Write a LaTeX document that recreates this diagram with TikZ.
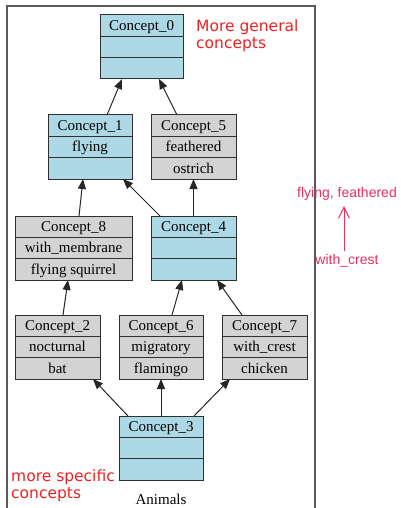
\documentclass[tikz,border=0pt]{standalone}
\usepackage{fontspec}
\setmainfont{Liberation Serif}
\newfontfamily\annofont{DejaVu Sans}
\newfontfamily\notefont{Liberation Sans}
\usetikzlibrary{arrows.meta,calc}
\definecolor{cblue}{HTML}{ADD8E6}
\definecolor{cgray}{HTML}{D3D3D3}
\definecolor{cline}{HTML}{303030}
\definecolor{annored}{HTML}{F02020}
\definecolor{notepink}{HTML}{E8305E}
\tikzset{
  box/.style={draw=cline, line width=1pt, rectangle, inner sep=0pt, outer sep=0pt},
  boxline/.style={draw=cline, line width=1pt},
  txt/.style={font=\fontsize{15}{15}\selectfont, inner sep=0pt, anchor=base},
  edge/.style={draw=black!85, line width=1pt, -{Triangle[length=10pt,width=8pt]}},
  frame/.style={draw=black!65, line width=1.3pt},
  anno/.style={text=annored, font=\annofont\fontsize{15.5}{18}\selectfont, inner sep=0pt, anchor=base west},
  note/.style={text=notepink, font=\notefont\fontsize{14}{14}\selectfont, inner sep=0pt},
  notearrow/.style={draw=notepink, line width=1pt, -{Straight Barb[length=11pt,width=11pt,line width=1pt]}}
}
\newcommand\conc[8]{%
  \node[box, fill=#5, minimum width={#4-#2}, minimum height=64, anchor=north west] (#1) at (#2,#3) {};
  \draw[boxline] ($(#1.north west)+(0,21.33)$) -- ($(#1.north east)+(0,21.33)$);
  \draw[boxline] ($(#1.north west)+(0,42.67)$) -- ($(#1.north east)+(0,42.67)$);
  \node[txt] at ($(#1.north)+(0,15.5)$) {#6};
  \node[txt] at ($(#1.north)+(0,36.8)$) {#7};
  \node[txt] at ($(#1.north)+(0,58.1)$) {#8};
}
\begin{document}
\begin{tikzpicture}[x={(1pt,0)}, y={(0,-1pt)}]
\useasboundingbox (0,0) rectangle (400,508);
\begin{scope}
\clip (0,0) rectangle (400,508);
\draw[frame] (7,6) rectangle (315,530);
\end{scope}
% annotations
\node[anno] (gen1) at (196,32) {More general};
\node[anno] (gen2) at (196,49) {concepts};
\node[anno] (spec1) at (11,481) {more specific};
\node[anno] (spec2) at (11,498) {concepts};
% concepts
\conc{c0}{100}{15}{183}{cblue}{Concept\_0}{}{}
\conc{c1}{48}{115}{132}{cblue}{Concept\_1}{flying}{}
\conc{c5}{151}{115}{236}{cgray}{Concept\_5}{feathered}{ostrich}
\conc{c8}{15}{216}{132}{cgray}{Concept\_8}{with\_membrane}{flying squirrel}
\conc{c4}{151}{216}{236}{cblue}{Concept\_4}{}{}
\conc{c2}{15}{315}{100}{cgray}{Concept\_2}{nocturnal}{bat}
\conc{c6}{119}{315}{203}{cgray}{Concept\_6}{migratory}{flamingo}
\conc{c7}{222}{315}{307}{cgray}{Concept\_7}{with\_crest}{chicken}
\conc{c3}{119}{416}{203}{cblue}{Concept\_3}{}{}
\node[txt] (animals) at (161,504) {Animals};
% edges
\draw[edge] ([xshift=17pt]c1.north) -- ([xshift=-19.5pt]c0.south);
\draw[edge] ([xshift=-16.5pt]c5.north) -- ([xshift=17.5pt]c0.south);
\draw[edge] ([xshift=5.5pt]c8.north) -- ([xshift=-7pt]c1.south);
\draw[edge] ([xshift=-33.5pt]c4.north) -- ([xshift=33pt]c1.south);
\draw[edge] (c4.north) -- (c5.south);
\draw[edge] ([xshift=5.5pt]c2.north) -- ([xshift=-5.5pt]c8.south);
\draw[edge] ([xshift=11pt]c6.north) -- ([xshift=-11.5pt]c4.south);
\draw[edge] ([xshift=-22.5pt]c7.north) -- ([xshift=23.5pt]c4.south);
\draw[edge] ([xshift=-33pt]c3.north) -- ([xshift=35.5pt]c2.south);
\draw[edge] (c3.north) -- (c6.south);
\draw[edge] ([xshift=33pt]c3.north) -- ([xshift=-34.5pt]c7.south);
% side note
\node[note, anchor=base] (ff) at (347,197) {flying, feathered};
\node[note, anchor=base] (wc) at (347,264) {with\_crest};
\draw[notearrow] ([xshift=-3pt,yshift=3pt]wc.north) -- ([xshift=-3pt,yshift=-6pt]ff.south);
\end{tikzpicture}
\end{document}
